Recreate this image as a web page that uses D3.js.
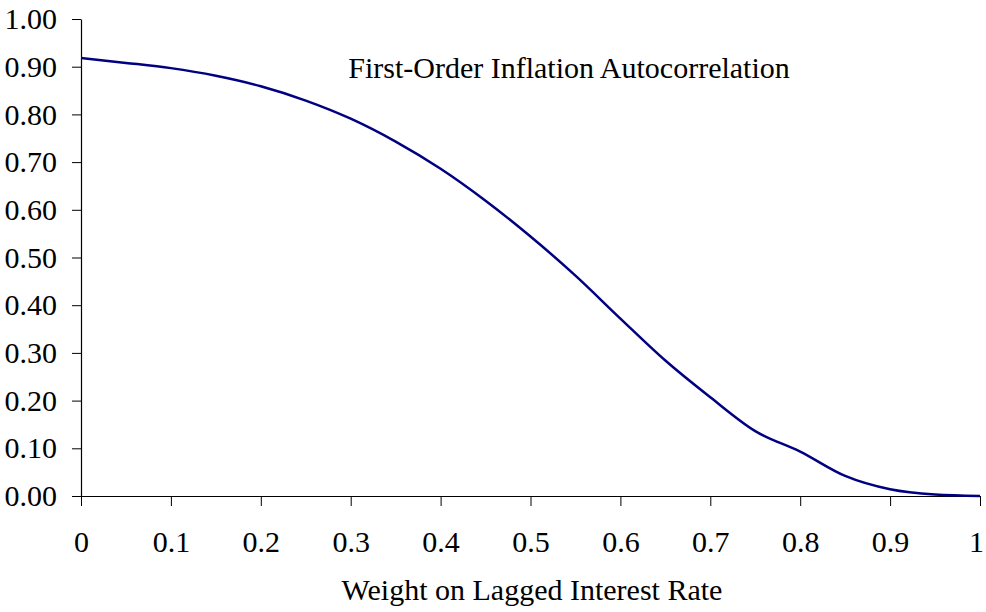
<!DOCTYPE html>
<html lang="en">
<head>
    <meta charset="UTF-8">
    <title>First-Order Inflation Autocorrelation</title>
    <script src="https://d3js.org/d3.v7.min.js"></script>
    <style>
        body {
            margin: 0;
            background: #fff;
            font-family: "Liberation Serif", "Times New Roman", serif;
        }
        .axis text {
            font-family: "Liberation Serif", "Times New Roman", serif;
            font-size: 30px;
            fill: #000;
        }
        .axis path, .axis line {
            stroke: #000;
        }
    </style>
</head>
<body>
    <div id="chart"></div>

    <script>
        // Weight on lagged interest rate
        const weights = [0, 0.05, 0.1, 0.15, 0.2, 0.25, 0.3, 0.35, 0.4, 0.45, 0.5,
                         0.55, 0.6, 0.65, 0.7, 0.75, 0.8, 0.85, 0.9, 0.95, 1];
        // First-order inflation autocorrelation
        const autocorr = [0.918, 0.908, 0.897, 0.881, 0.859, 0.829, 0.791, 0.743, 0.686, 0.619, 0.544,
                          0.462, 0.372, 0.284, 0.207, 0.136, 0.093, 0.042, 0.014, 0.003, 0.000];

        const xTicks = [0, 0.1, 0.2, 0.3, 0.4, 0.5, 0.6, 0.7, 0.8, 0.9, 1];
        const yTicks = [0, 0.1, 0.2, 0.3, 0.4, 0.5, 0.6, 0.7, 0.8, 0.9, 1];

        const data = weights.map((w, i) => ({ w: w, r: autocorr[i] }));

        const margin = { top: 19, right: 6, bottom: 116, left: 81 };
        const width = 986 - margin.left - margin.right;
        const height = 612 - margin.top - margin.bottom;

        const svg = d3.select("#chart")
            .append("svg")
            .attr("width", 986)
            .attr("height", 612)
            .append("g")
            .attr("transform", `translate(${margin.left},${margin.top})`);

        const x = d3.scaleLinear().domain([0, 1]).range([0, width]);
        const y = d3.scaleLinear().domain([0, 1]).range([height, 0]);

        // x axis
        const xAxis = svg.append("g")
            .attr("class", "axis")
            .attr("transform", `translate(0,${height})`)
            .call(d3.axisBottom(x)
                .tickValues(xTicks)
                .tickSizeInner(10)
                .tickSizeOuter(0)
                .tickPadding(25)
                .tickFormat(d => d === 0 || d === 1 ? d3.format("d")(d) : d3.format(".1f")(d)));

        // keep the last label inside the window
        xAxis.selectAll(".tick text")
            .filter(d => d === 1)
            .attr("dx", -4);

        // y axis
        svg.append("g")
            .attr("class", "axis")
            .call(d3.axisLeft(y)
                .tickValues(yTicks)
                .tickSizeInner(9)
                .tickSizeOuter(0)
                .tickPadding(15)
                .tickFormat(d3.format(".2f")));

        svg.selectAll(".axis path").attr("stroke-width", 1.2);

        // line
        const line = d3.line()
            .x(d => x(d.w))
            .y(d => y(d.r))
            .curve(d3.curveMonotoneX);

        svg.append("path")
            .datum(data)
            .attr("fill", "none")
            .attr("stroke", "#000080")
            .attr("stroke-width", 2.5)
            .attr("d", line);

        // in-plot label
        svg.append("text")
            .attr("x", 569 - margin.left)
            .attr("y", 78 - margin.top)
            .attr("text-anchor", "middle")
            .attr("font-size", 30)
            .text("First-Order Inflation Autocorrelation");

        // x axis title
        svg.append("text")
            .attr("x", 532 - margin.left)
            .attr("y", 600 - margin.top)
            .attr("text-anchor", "middle")
            .attr("font-size", 30)
            .text("Weight on Lagged Interest Rate");
    </script>
</body>
</html>
